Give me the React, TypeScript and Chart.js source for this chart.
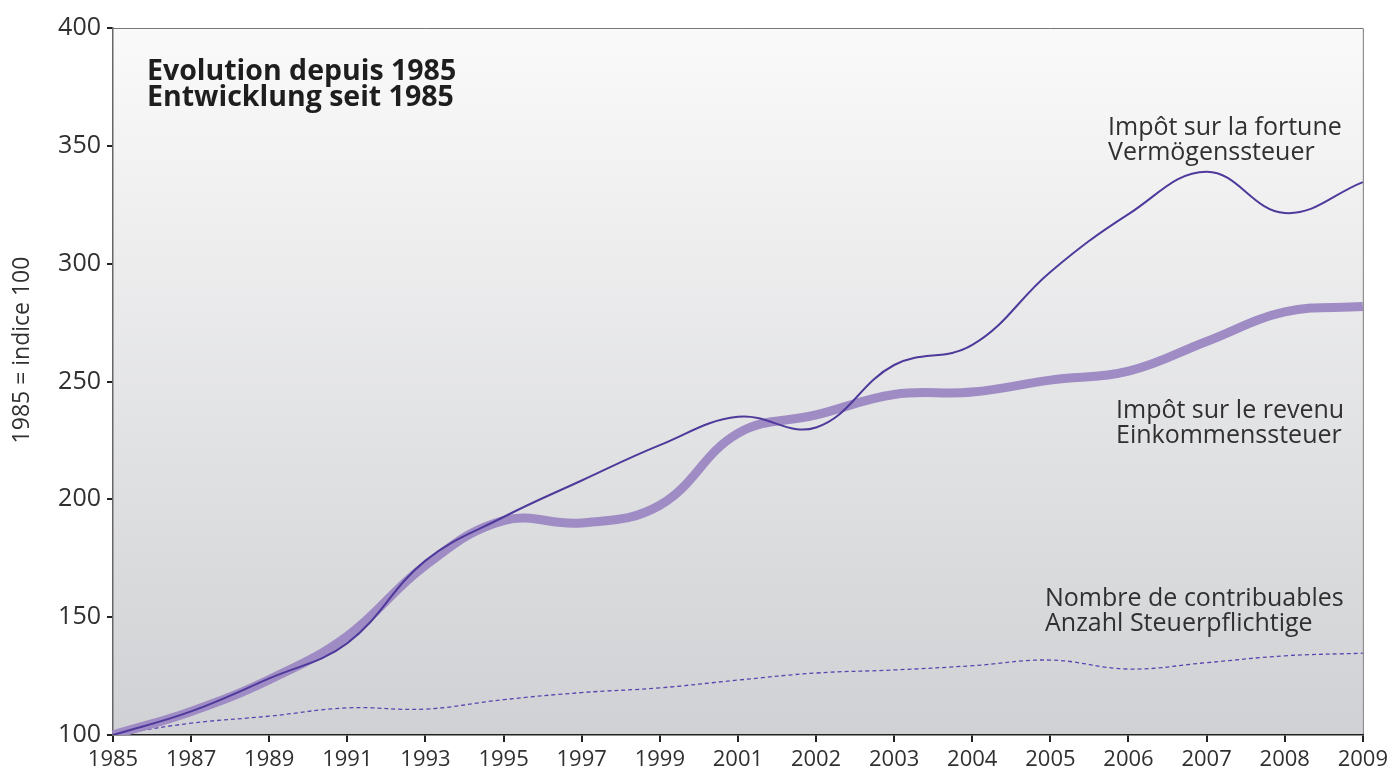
import React, { useEffect, useRef } from "react";
import { Chart, registerables } from "chart.js";
Chart.register(...registerables);

const years = ["1985","1987","1989","1991","1993","1995","1997","1999","2001","2002","2003","2004","2005","2006","2007","2008","2009"];
const vermoegenssteuer = [100, 110, 124, 139, 174, 192.5, 208, 223, 235, 230.5, 257, 265.5, 296.5, 321, 339, 321.5, 334.6];
const einkommenssteuer = [100, 110, 123.5, 142, 172, 191, 190, 197.5, 228, 235.8, 244.5, 245.5, 250.6, 254.4, 267, 279.5, 281.8];
const steuerpflichtige = [100, 105, 108, 111.5, 111, 115, 118, 120, 123.3, 126.3, 127.6, 129.4, 131.8, 128, 130.7, 133.6, 134.7];

const titleLines = ["Evolution depuis 1985", "Entwicklung seit 1985"];
const yAxisTitle = "1985 = indice 100";
const labelFortune = ["Impôt sur la fortune", "Vermögenssteuer"];
const labelRevenu = ["Impôt sur le revenu", "Einkommenssteuer"];
const labelContrib = ["Nombre de contribuables", "Anzahl Steuerpflichtige"];

const FONT = "'Open Sans', 'Noto Sans', sans-serif";
const TEXT = "#303030";

const decorPlugin = {
  id: "decor",
  beforeDraw(chart: any) {
    const { ctx, chartArea: a } = chart;
    ctx.save();
    const g = ctx.createLinearGradient(0, a.top, 0, a.bottom);
    g.addColorStop(0, "#fafafa");
    g.addColorStop(1, "#d0d1d4");
    ctx.fillStyle = g;
    ctx.fillRect(a.left, a.top, a.right - a.left, a.bottom - a.top);
    ctx.strokeStyle = "#777";
    ctx.lineWidth = 1;
    ctx.beginPath();
    ctx.moveTo(a.left, a.top + 0.5);
    ctx.lineTo(a.right + 0.5, a.top + 0.5);
    ctx.lineTo(a.right + 0.5, a.bottom);
    ctx.stroke();
    ctx.restore();
  },
  afterDraw(chart: any) {
    const { ctx, chartArea: a } = chart;
    ctx.save();
    ctx.fillStyle = "#1e1e1e";
    ctx.textBaseline = "alphabetic";
    ctx.textAlign = "left";
    ctx.font = `bold 28.5px ${FONT}`;
    ctx.fillText(titleLines[0], a.left + 34, a.top + 52);
    ctx.fillText(titleLines[1], a.left + 34, a.top + 78);
    ctx.fillStyle = TEXT;
    ctx.font = `25px ${FONT}`;
    const block = (lines: string[], x: number, y: number) => {
      lines.forEach((t, i) => ctx.fillText(t, x, y + i * 25));
    };
    block(labelFortune, a.left + 995, a.top + 107);
    block(labelRevenu, a.left + 1003, a.top + 390);
    block(labelContrib, a.left + 932, a.top + 578);
    // y axis title
    ctx.translate(22, 350);
    ctx.rotate(-Math.PI / 2);
    ctx.textAlign = "center";
    ctx.textBaseline = "middle";
    ctx.font = `23px ${FONT}`;
    ctx.fillText(yAxisTitle, 0, 0);
    ctx.restore();
  },
};

export default function App() {
  const ref = useRef<HTMLCanvasElement | null>(null);
  useEffect(() => {
    document.body.style.margin = "0";
    const chart = new Chart(ref.current as HTMLCanvasElement, {
      type: "line",
      data: {
        labels: years,
        datasets: [
          {
            label: "Vermögenssteuer",
            data: vermoegenssteuer,
            borderColor: "#4f3a9c",
            borderWidth: 2,
            pointRadius: 0,
            tension: 0.4,
            order: 0,
          },
          {
            label: "Einkommenssteuer",
            data: einkommenssteuer,
            borderColor: "#9f8cc5",
            borderWidth: 9,
            pointRadius: 0,
            tension: 0.4,
            borderCapStyle: "butt",
            order: 1,
          },
          {
            label: "Steuerpflichtige",
            data: steuerpflichtige,
            borderColor: "#5c44b0",
            borderWidth: 1.3,
            borderDash: [4, 3],
            pointRadius: 0,
            tension: 0.4,
            order: 2,
          },
        ],
      },
      options: {
        responsive: false,
        animation: false,
        layout: { padding: { top: 28, right: 27, left: 0, bottom: 0 } },
        plugins: { legend: { display: false }, tooltip: { enabled: false } },
        scales: {
          x: {
            type: "category",
            offset: false,
            afterFit: (s: any) => { s.height = 34; },
            grid: { drawOnChartArea: false, drawTicks: true, tickLength: 7, color: "#222", lineWidth: 2 },
            border: { display: true, color: "#222", width: 1.5 },
            ticks: { color: TEXT, font: { family: FONT, size: 22 }, padding: 5, maxRotation: 0, autoSkip: false },
          },
          y: {
            min: 100,
            max: 400,
            afterFit: (s: any) => { s.width = 113; },
            grid: { drawOnChartArea: false, drawTicks: true, tickLength: 6, color: "#222", lineWidth: 2 },
            border: { display: true, color: "#666", width: 1.5 },
            ticks: { stepSize: 50, color: TEXT, font: { family: FONT, size: 25 }, padding: 6 },
            title: { display: false },
          },
        },
      },
      plugins: [decorPlugin],
    } as any);
    return () => chart.destroy();
  }, []);
  return (
    <div style={{ position: "absolute", left: 0, top: 0, width: 1393, height: 769 }}>
      <canvas ref={ref} width={1393} height={769} style={{ display: "block" }} />
    </div>
  );
}
